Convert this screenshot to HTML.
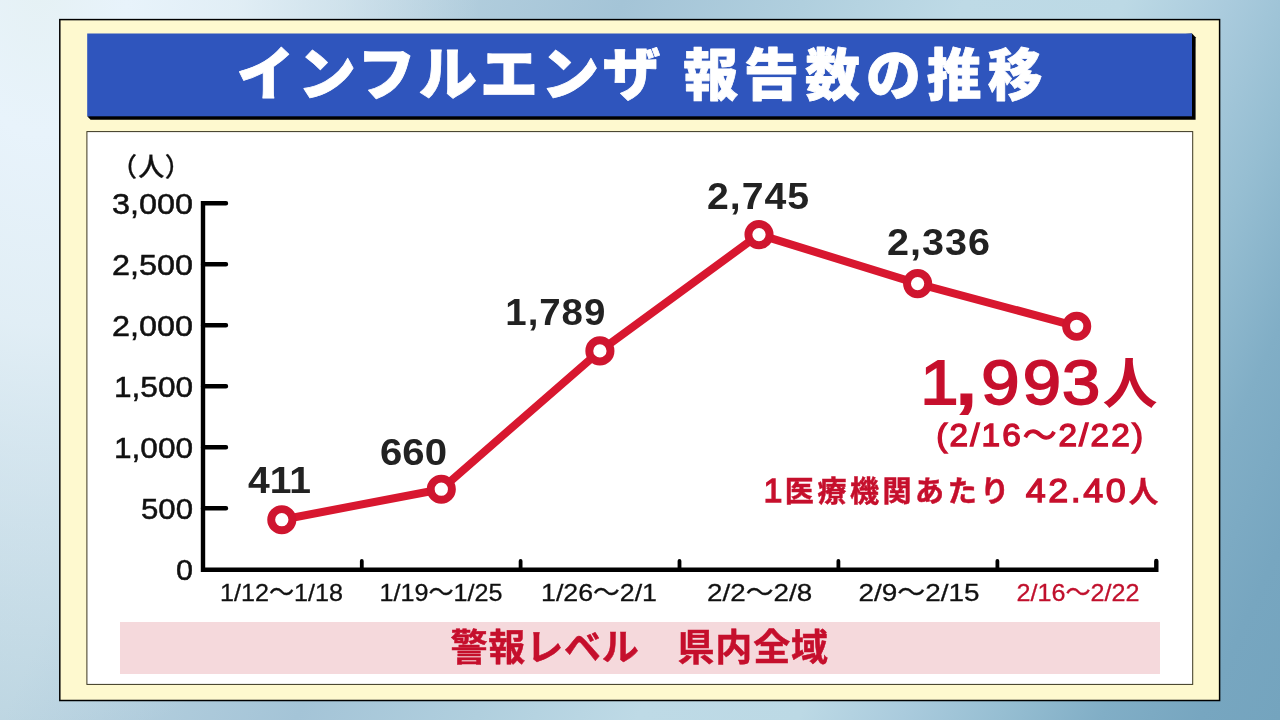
<!DOCTYPE html>
<html lang="ja">
<head>
<meta charset="utf-8">
<title>インフルエンザ 報告数の推移</title>
<style>
html,body{margin:0;padding:0;width:1280px;height:720px;overflow:hidden;background:#a8c8da}
svg{display:block;position:absolute;left:0;top:0}
text{font-family:"Liberation Sans","Noto Sans CJK JP",sans-serif}
.jp{font-family:"Noto Sans CJK JP","Liberation Sans",sans-serif}
.ttl{font-family:"Noto Sans CJK JP","Liberation Sans",sans-serif;font-weight:900;fill:#fff;stroke:#fff;stroke-width:0.8px;stroke-linejoin:round;paint-order:stroke}
.yl{font-size:29px;fill:#111;stroke:#111;stroke-width:0.5px;text-anchor:end}
.xl{font-size:24.5px;fill:#111;stroke:#111;stroke-width:0.3px;text-anchor:middle}
.dl{font-size:36px;font-weight:700;fill:#222}
.red{fill:#c50f2c}
.sk{stroke:#c8102e;stroke-width:0.5px}
.mid{stroke:#c8102e;stroke-width:1.3px;stroke-linejoin:miter}
.big{stroke:#c8102e;stroke-width:1.8px;stroke-linejoin:miter}
</style>
</head>
<body>
<svg width="1280" height="720" viewBox="0 0 1280 720">
<defs>
<linearGradient id="bg" gradientUnits="userSpaceOnUse" x1="0" y1="0" x2="1331.7" y2="606.9">
<stop offset="0" stop-color="#bdd6e2"/>
<stop offset="0.205" stop-color="#bcd5e1"/>
<stop offset="0.265" stop-color="#b4cfde"/>
<stop offset="0.388" stop-color="#a4c4d7"/>
<stop offset="0.50" stop-color="#b0cfde"/>
<stop offset="0.60" stop-color="#bedae6"/>
<stop offset="0.70" stop-color="#bcd9e5"/>
<stop offset="0.764" stop-color="#aacbdd"/>
<stop offset="0.826" stop-color="#96bed2"/>
<stop offset="0.888" stop-color="#81aec6"/>
<stop offset="0.95" stop-color="#77a6c0"/>
<stop offset="1" stop-color="#74a4be"/>
</linearGradient>
<radialGradient id="glow" gradientUnits="userSpaceOnUse" cx="0" cy="0" r="1" gradientTransform="translate(40,-20) scale(440,770)">
<stop offset="0" stop-color="#e5f1f4" stop-opacity="1"/>
<stop offset="0.2" stop-color="#e8f3fb" stop-opacity="1"/>
<stop offset="0.45" stop-color="#e4f0f7" stop-opacity="0.92"/>
<stop offset="0.75" stop-color="#e0edf5" stop-opacity="0.42"/>
<stop offset="1" stop-color="#dcebf3" stop-opacity="0"/>
</radialGradient>
</defs>
<rect x="0" y="0" width="1280" height="720" fill="url(#bg)"/>
<rect x="0" y="0" width="1280" height="720" fill="url(#glow)"/>

<!-- outer frame -->
<rect x="59.8" y="19.6" width="1159.8" height="680.9" fill="#fef9cf" stroke="#000" stroke-width="1.5"/>

<!-- title box -->
<path d="M1192 33.5 L1195.6 37.2 L1195.6 119.8 L90.6 119.8 L87.2 116.3 Z" fill="#000"/>
<rect x="87.2" y="33.5" width="1104.8" height="82.8" fill="#2f55bd"/>
<text class="ttl" x="236.6" y="94.6" font-size="58" textLength="424" lengthAdjust="spacing">インフルエンザ</text>
<text class="ttl" x="683.2" y="94.7" font-size="56" letter-spacing="6.2" textLength="365.5" lengthAdjust="spacingAndGlyphs">報告数の推移</text>

<!-- white panel -->
<rect x="86.9" y="131.6" width="1105.8" height="552.8" fill="#fff" stroke="#3a3620" stroke-width="1"/>

<!-- pink bar -->
<rect x="120" y="622" width="1040" height="52" fill="#f5d9dc"/>
<text class="jp red sk" x="450.5" y="660.5" font-size="37" font-weight="700" textLength="377.5" lengthAdjust="spacing">警報レベル　県内全域</text>

<!-- axes -->
<g stroke="#000" stroke-width="4.4" fill="none" stroke-linecap="round" stroke-linejoin="miter">
<path d="M226 203.3 H203 V569.7 H1156.3 V561"/>
<path d="M203 264.3 H226 M203 325.3 H226 M203 386.3 H226 M203 447.3 H226 M203 508.3 H226"/>
</g>
<g stroke="#000" stroke-width="3.8" fill="none" stroke-linecap="round">
<path d="M361.8 569 V561 M520.6 569 V561 M679.5 569 V561 M838.4 569 V561 M997.4 569 V561"/>
</g>

<!-- y labels -->
<text class="jp" x="111 138.3 164.8" y="175.9" font-size="26" font-weight="500" fill="#111" stroke="#111" stroke-width="0.3">（人）</text>
<g class="yl">
<text x="193" y="214.0" textLength="81" lengthAdjust="spacingAndGlyphs">3,000</text>
<text x="193" y="275.0" textLength="81" lengthAdjust="spacingAndGlyphs">2,500</text>
<text x="193" y="336.0" textLength="81" lengthAdjust="spacingAndGlyphs">2,000</text>
<text x="193" y="397.0" textLength="79" lengthAdjust="spacingAndGlyphs">1,500</text>
<text x="193" y="458.0" textLength="79" lengthAdjust="spacingAndGlyphs">1,000</text>
<text x="193" y="519.0" textLength="52" lengthAdjust="spacingAndGlyphs">500</text>
<text x="193" y="580.0" textLength="17" lengthAdjust="spacingAndGlyphs">0</text>
</g>

<!-- x labels -->
<g class="xl">
<text x="281.5" y="601" textLength="123" lengthAdjust="spacingAndGlyphs">1/12～1/18</text>
<text x="441" y="601" textLength="123" lengthAdjust="spacingAndGlyphs">1/19～1/25</text>
<text x="599" y="601" textLength="116" lengthAdjust="spacingAndGlyphs">1/26～2/1</text>
<text x="759.6" y="601" textLength="105" lengthAdjust="spacingAndGlyphs">2/2～2/8</text>
<text x="919" y="601" textLength="121" lengthAdjust="spacingAndGlyphs">2/9～2/15</text>
<text class="red" x="1078" y="601" textLength="123" lengthAdjust="spacingAndGlyphs" style="fill:#c0102c;stroke:#c0102c">2/16～2/22</text>
</g>

<!-- line -->
<polyline points="281.8,519.7 441.3,489.2 599.9,350.9 759,234.6 917.6,283.6 1076.7,326.3" fill="none" stroke="#d8172f" stroke-width="8" stroke-linejoin="round" stroke-linecap="round"/>
<g fill="#fff" stroke="#cf152f" stroke-width="7.9">
<circle cx="281.8" cy="519.7" r="10.6"/>
<circle cx="441.3" cy="489.2" r="10.6"/>
<circle cx="599.9" cy="350.9" r="10.6"/>
<circle cx="759" cy="234.6" r="10.6"/>
<circle cx="917.6" cy="283.6" r="10.6"/>
<circle cx="1076.7" cy="326.3" r="10.6"/>
</g>

<!-- data labels -->
<g class="dl">
<text x="248" y="493" textLength="63" lengthAdjust="spacingAndGlyphs">411</text>
<text x="380" y="464.5" textLength="67" lengthAdjust="spacingAndGlyphs">660</text>
<text x="505.3" y="324.5" textLength="101" lengthAdjust="spacingAndGlyphs" letter-spacing="0.9">1,789</text>
<text x="707" y="208.5" textLength="103" lengthAdjust="spacingAndGlyphs" letter-spacing="0.9">2,745</text>
<text x="887" y="255.3" textLength="104" lengthAdjust="spacingAndGlyphs" letter-spacing="0.9">2,336</text>
</g>

<!-- red annotation -->
<text class="red big" transform="scale(1.1,1)" x="836.6 869.6 892.1 929.7 965.4" y="403.8" font-size="62.5" font-weight="400">1<tspan font-weight="700" font-size="64">,</tspan>993</text>
<text class="jp red" x="1102.5" y="403" font-size="55" font-weight="700">人</text>
<text class="red mid" x="936.2" y="446" font-size="31" font-weight="400" letter-spacing="2" textLength="209" lengthAdjust="spacingAndGlyphs">(2/16～2/22)</text>
<text class="red mid" x="763.4" y="502.2" font-size="34" font-weight="400">1</text>
<text class="jp red sk" x="784.8" y="502.3" font-size="29" font-weight="700" textLength="224.5" lengthAdjust="spacing">医療機関あたり</text>
<text class="red mid" x="1025.7" y="502.2" font-size="34" font-weight="400" letter-spacing="2.4" textLength="102.5" lengthAdjust="spacingAndGlyphs">42.40</text>
<text class="jp red sk" x="1128.7" y="502.3" font-size="29.5" font-weight="700">人</text>
</svg>
</body>
</html>
